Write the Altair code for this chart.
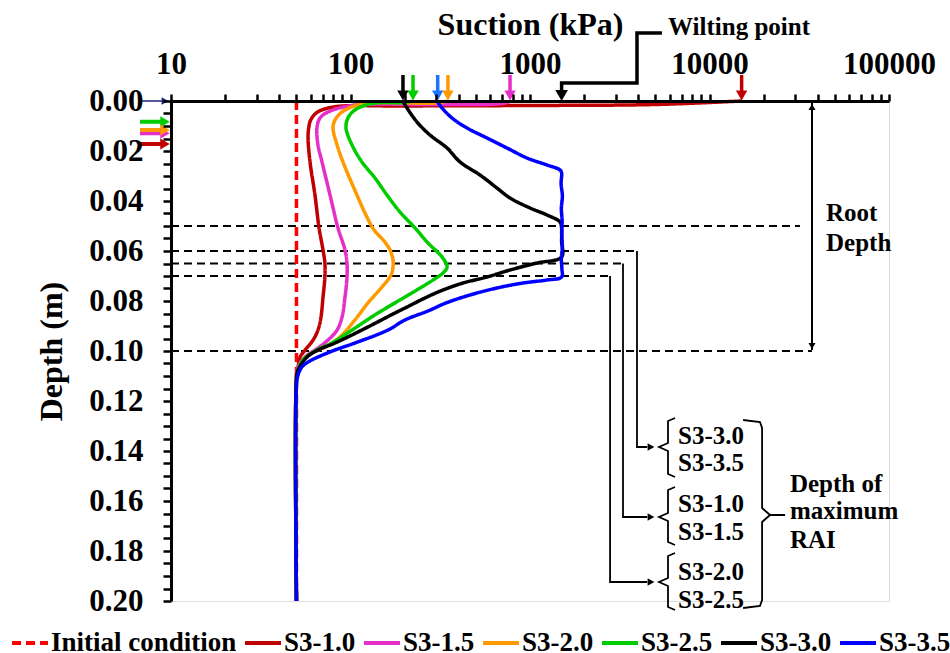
import altair as alt
import pandas as pd

FONT = "Liberation Serif"

# ---------------- series data (suction kPa vs depth m) ----------------
series_names = ["Initial condition", "S3-1.0", "S3-1.5", "S3-2.0", "S3-2.5", "S3-3.0", "S3-3.5"]
series_colors = ["#FF0000", "#C00000", "#E62FC9", "#FF9900", "#00CC00", "#000000", "#0000FF"]
series_dash = [[9, 5], [1, 0], [1, 0], [1, 0], [1, 0], [1, 0], [1, 0]]

init_depth = [0.0, 0.2]
init_suction = [50, 50]

s10_depth = [0.0, 0.0014, 0.0018, 0.0020, 0.0024, 0.0046, 0.0076, 0.0108, 0.0148, 0.0244, 0.0376,
             0.0508, 0.0596, 0.0648, 0.0704, 0.0784, 0.0864, 0.0916, 0.0956, 0.0996, 0.1024, 0.1064,
             0.110, 0.20]
s10_suction = [15000, 5000, 1000, 200, 80, 65, 60, 58.5, 58, 59.5, 63.4,
               66.8, 70.3, 72, 72, 70.3, 68.5, 65.9, 61.9, 55.9, 52.4, 51,
               50, 50]

s15_depth = [0.0, 0.0010, 0.0014, 0.0018, 0.0044, 0.0068, 0.0108, 0.0176, 0.0244, 0.0376, 0.0508,
             0.0596, 0.0648, 0.0704, 0.0784, 0.0864, 0.0916, 0.0956, 0.0988, 0.1024, 0.1064, 0.110, 0.20]
s15_suction = [783, 700, 300, 102, 75, 67.6, 65, 65.9, 69.4, 76.9, 85.2,
               93.2, 95.6, 95.6, 93.2, 89.7, 84.2, 75, 65.9, 55.9, 51, 50, 50]

s20_depth = [0.0, 0.0008, 0.0012, 0.0044, 0.0076, 0.0108, 0.0176, 0.0244, 0.0376, 0.0456, 0.0516,
             0.0560, 0.0596, 0.0636, 0.0664, 0.0696, 0.0744, 0.0808, 0.0876, 0.0944, 0.0984, 0.1008,
             0.1036, 0.1076, 0.111, 0.20]
s20_suction = [345, 300, 116, 89.7, 82, 79.9, 84.2, 90.8, 108.6, 121.9, 135.3,
               153.8, 166, 172.5, 172.5, 168.2, 149.8, 125, 105.8, 87.4, 72.1, 61.1,
               54.4, 51, 50, 50]

s25_depth = [0.0, 0.0006, 0.0010, 0.0036, 0.0068, 0.0108, 0.0176, 0.0244, 0.0308, 0.0376, 0.0444,
             0.0508, 0.0568, 0.0624, 0.0664, 0.0688, 0.0716, 0.0784, 0.0848, 0.0916, 0.0968, 0.0996,
             0.1036, 0.1076, 0.111, 0.20]
s25_suction = [223, 200, 131.7, 105.8, 96.8, 94.4, 102, 115.8, 136.9, 159.6, 188.7,
               228.8, 270.2, 323.6, 345.1, 327.6, 288.2, 201.4, 142.2, 102, 78.8, 65,
               54.4, 51, 50, 50]

s30_depth = [0.0, 0.0028, 0.0084, 0.0136, 0.0188, 0.0244, 0.0296, 0.0348, 0.0388, 0.0428, 0.0456,
             0.0484, 0.0508, 0.0560, 0.0624, 0.0648, 0.0676, 0.0704, 0.0728, 0.0756, 0.0784, 0.0824,
             0.0848, 0.0916, 0.0968, 0.0996, 0.1024, 0.1076, 0.111, 0.20]
s30_suction = [196, 206.5, 234.7, 277.1, 345, 407.7, 526.5, 654.3, 773.8, 1000, 1244,
               1469, 1500, 1500, 1500, 1094, 774, 576, 423.6, 327.6, 266.7, 206.5,
               177, 115.8, 82, 65.9, 57.3, 51, 50, 50]

s35_depth = [0.0, 0.0028, 0.0068, 0.0108, 0.0148, 0.0188, 0.0228, 0.0256, 0.0276, 0.0288, 0.033,
             0.038, 0.043, 0.048, 0.053, 0.058, 0.063, 0.067, 0.0704, 0.0716, 0.0728, 0.0748,
             0.0776, 0.0808, 0.0840, 0.0876, 0.0916, 0.0968, 0.0996, 0.1024, 0.1044, 0.1064,
             0.1096, 0.1136, 0.20]
s35_suction = [303, 323.6, 367.6, 445.6, 576, 744, 961.6, 1244, 1470, 1500, 1490,
               1515, 1495, 1510, 1500, 1515, 1495, 1505, 1500, 1244, 914, 654,
               463, 340, 270, 201, 161.8, 105.8, 82, 65.9, 58, 53.6,
               51, 50, 50]

# ---------------- annotation data ----------------
hline_depth = [0.05, 0.06, 0.065, 0.07, 0.10]
hline_end = [31900, 3945, 3297, 2793, 37240]

conn_group = [1, 1, 1, 2, 2, 2, 3, 3, 3]
conn_suction = [3945, 3945, 4500, 3297, 3297, 4500, 2793, 2793, 4500]
conn_depth = [0.06, 0.1384, 0.1384, 0.065, 0.1664, 0.1664, 0.07, 0.1924, 0.1924]
conn_head_suction = [4720, 4720, 4720]
conn_head_depth = [0.1384, 0.1664, 0.1924]

brace_group = [1] * 7 + [2] * 7 + [3] * 7 + [4] * 6 + [5] * 5
brace_suction = [6427, 5873, 5873, 5234, 5873, 5873, 6427] * 3 + \
                [15390, 19100, 19630, 19630, 21740, 26360] + \
                [15390, 19100, 19630, 19630, 21740]
brace_depth = [0.1268, 0.128, 0.1368, 0.1384, 0.14, 0.1492, 0.1504,
               0.1544, 0.1556, 0.1648, 0.1664, 0.168, 0.1764, 0.1776,
               0.1808, 0.182, 0.1908, 0.1924, 0.194, 0.2024, 0.2036,
               0.1276, 0.1284, 0.1308, 0.1628, 0.1656, 0.1656,
               0.2028, 0.202, 0.1996, 0.1684, 0.1656]

wilt_suction = [5433, 3945, 3945, 1500, 1500]
wilt_depth = [-0.0272, -0.0272, -0.0072, -0.0072, -0.0036]
wilt_head = [1500, -0.0022]

root_suction = 37240
root_top, root_bottom = 0.0008, 0.0996
root_head_depth = [0.0024, 0.098]
root_head_shape = ["triangle-up", "triangle-down"]

top_arrow_suction = [196, 223, 306, 349, 774, 15100]
top_arrow_colors = ["#000000", "#00CC00", "#1A75FF", "#FF9900", "#E62FC9", "#C00000"]
top_arrow_from, top_arrow_to, top_arrow_head = -0.0104, -0.0036, -0.0022

left_arrow_depth = [0.0, 0.0083, 0.0129, 0.0116, 0.0172]
left_arrow_colors = ["#1F1F7A", "#00CC00", "#E62FC9", "#FF9900", "#C00000"]
left_arrow_width = [1.5, 4, 4, 4, 4]
left_arrow_from, left_arrow_to, left_arrow_head = 6.72, 8.9, 9.26

text_labels = ["Root", "Depth", "S3-3.0", "S3-3.5", "S3-1.0", "S3-1.5", "S3-2.0", "S3-2.5",
               "Depth of", "maximum", "RAI", "Wilting point"]
text_suction = [44570, 44570, 6680, 6680, 6680, 6680, 6680, 6680, 28050, 28050, 28050, 5873]
text_depth = [0.0448, 0.0568, 0.134, 0.1448, 0.1612, 0.1724, 0.1884, 0.1996,
              0.1532, 0.164, 0.1756, -0.0296]

x_ticks = [m * 10 ** e for e in range(1, 5) for m in range(1, 10)] + [100000]
y_ticks = [round(i * 0.005, 3) for i in range(41)]

# ---------------- build tables ----------------
all_depth = [init_depth, s10_depth, s15_depth, s20_depth, s25_depth, s30_depth, s35_depth]
all_suction = [init_suction, s10_suction, s15_suction, s20_suction, s25_suction, s30_suction, s35_suction]
rows = []
for name, d, s in zip(series_names, all_depth, all_suction):
    for i, (dd, ss) in enumerate(zip(d, s)):
        rows.append({"series": name, "depth": dd, "suction": ss, "idx": i})
curves = pd.DataFrame(rows)

xs = alt.Scale(type="log", domain=[10, 100000], nice=False)
ys = alt.Scale(domain=[0, 0.2], reverse=True, nice=False, zero=False)

x_axis = alt.Axis(orient="top", values=x_ticks,
                  labelExpr="indexof([10,100,1000,10000,100000], datum.value) >= 0 ? format(datum.value, 'd') : ''",
                  title="Suction (kPa)", titleFont=FONT, titleFontSize=32, titleFontWeight="bold",
                  titleColor="black", titlePadding=7,
                  labelFont=FONT, labelFontSize=31, labelFontWeight="bold", labelColor="black",
                  labelPadding=14, labelFlush=False, labelOverlap=False,
                  tickSize=7, tickWidth=2.5, tickColor="black",
                  domainWidth=3, domainColor="black", grid=False, zindex=1)
y_axis = alt.Axis(orient="left", values=y_ticks,
                  labelExpr="round(datum.value*1000) % 20 == 0 ? format(datum.value, '.2f') : ''",
                  title="Depth (m)", titleFont=FONT, titleFontSize=32, titleFontWeight="bold",
                  titleColor="black", titlePadding=20,
                  labelFont=FONT, labelFontSize=31, labelFontWeight="bold", labelColor="black",
                  labelPadding=20, labelFlush=False, labelOverlap=False,
                  tickSize=8, tickWidth=2.5, tickColor="black",
                  domainWidth=3, domainColor="black", grid=False, zindex=1)


def X(field):
    return alt.X(field, type="quantitative", scale=xs, axis=x_axis)


def Y(field):
    return alt.Y(field, type="quantitative", scale=ys, axis=y_axis)


legend = alt.Legend(orient="none", legendX=-161, legendY=522, direction="horizontal", columns=7,
                    title=None, labelFont=FONT, labelFontSize=27, labelFontWeight="bold",
                    labelColor="black", symbolType="stroke", symbolSize=1296, symbolStrokeWidth=4,
                    labelOffset=1, columnPadding=0, labelLimit=400)

curve_layer = alt.Chart(curves).mark_line(strokeWidth=3.5, interpolate="catmull-rom").encode(
    x=X("suction"), y=Y("depth"),
    color=alt.Color("series:N", scale=alt.Scale(domain=series_names, range=series_colors), legend=legend),
    strokeDash=alt.StrokeDash("series:N", scale=alt.Scale(domain=series_names, range=series_dash), legend=legend),
    order="idx:Q",
)

hlines = alt.Chart(pd.DataFrame({"depth": hline_depth, "x0": [10] * len(hline_depth), "x1": hline_end})).mark_rule(
    color="black", strokeWidth=1.8, strokeDash=[8, 5]).encode(
    x=X("x0"), x2="x1:Q", y=Y("depth"))

conn = alt.Chart(pd.DataFrame({"g": conn_group, "suction": conn_suction, "depth": conn_depth,
                               "o": list(range(len(conn_group)))})).mark_line(
    color="black", strokeWidth=1.8).encode(
    x=X("suction"), y=Y("depth"), detail="g:N", order="o:Q")

conn_heads = alt.Chart(pd.DataFrame({"suction": conn_head_suction, "depth": conn_head_depth})).mark_point(
    shape="triangle-right", filled=True, color="black", size=60, opacity=1).encode(
    x=X("suction"), y=Y("depth"))

braces = alt.Chart(pd.DataFrame({"g": brace_group, "suction": brace_suction, "depth": brace_depth,
                                 "o": list(range(len(brace_group)))})).mark_line(
    color="black", strokeWidth=1.8).encode(
    x=X("suction"), y=Y("depth"), detail="g:N", order="o:Q")

wilt = alt.Chart(pd.DataFrame({"suction": wilt_suction, "depth": wilt_depth,
                               "o": list(range(len(wilt_depth)))})).mark_line(
    color="black", strokeWidth=3.5).encode(
    x=X("suction"), y=Y("depth"), order="o:Q")

wilt_h = alt.Chart(pd.DataFrame({"suction": [wilt_head[0]], "depth": [wilt_head[1]]})).mark_point(
    shape="triangle-down", filled=True, color="black", size=160, opacity=1).encode(
    x=X("suction"), y=Y("depth"))

root = alt.Chart(pd.DataFrame({"suction": [root_suction], "d0": [root_top], "d1": [root_bottom]})).mark_rule(
    color="black", strokeWidth=2).encode(
    x=X("suction"), y=Y("d0"), y2="d1:Q")

root_h = alt.Chart(pd.DataFrame({"suction": [root_suction] * 2, "depth": root_head_depth,
                                 "shape": root_head_shape})).mark_point(
    filled=True, color="black", size=50, opacity=1).encode(
    x=X("suction"), y=Y("depth"), shape=alt.Shape("shape:N", scale=None))

top_df = pd.DataFrame({"suction": top_arrow_suction, "col": top_arrow_colors,
                       "d0": [top_arrow_from] * 6, "d1": [top_arrow_to] * 6, "dh": [top_arrow_head] * 6})
top_sh = alt.Chart(top_df).mark_rule(strokeWidth=3.5).encode(
    x=X("suction"), y=Y("d0"), y2="d1:Q", color=alt.Color("col:N", scale=None))
top_hd = alt.Chart(top_df).mark_point(shape="triangle-down", filled=True, size=130, opacity=1).encode(
    x=X("suction"), y=Y("dh"), color=alt.Color("col:N", scale=None))

n_left = len(left_arrow_depth)
left_df = pd.DataFrame({"depth": left_arrow_depth, "col": left_arrow_colors, "w": left_arrow_width,
                        "x0": [left_arrow_from] * n_left, "x1": [left_arrow_to] * n_left,
                        "xh": [left_arrow_head] * n_left,
                        "hs": [60 if w < 2 else 120 for w in left_arrow_width]})
left_sh = alt.Chart(left_df).mark_rule().encode(
    x=X("x0"), x2="x1:Q", y=Y("depth"),
    color=alt.Color("col:N", scale=None), strokeWidth=alt.StrokeWidth("w:Q", scale=None))
left_hd = alt.Chart(left_df).mark_point(shape="triangle-right", filled=True, opacity=1).encode(
    x=X("xh"), y=Y("depth"),
    color=alt.Color("col:N", scale=None), size=alt.Size("hs:Q", scale=None))

texts = alt.Chart(pd.DataFrame({"t": text_labels, "suction": text_suction, "depth": text_depth})).mark_text(
    font=FONT, fontSize=25, fontWeight="bold", align="left", baseline="middle", color="black").encode(
    x=X("suction"), y=Y("depth"), text="t:N")

chart = alt.layer(
    hlines, conn, braces, conn_heads, root, root_h, wilt, wilt_h, curve_layer,
    top_sh, top_hd, left_sh, left_hd, texts
).properties(
    width=718, height=500,
    padding={"left": 171, "top": 101, "right": 61, "bottom": 52},
    autosize=alt.AutoSizeParams(type="none"),
).configure_view(strokeWidth=0).configure(background="white")

chart.save("out.html", embed_options={"renderer": "svg", "actions": False})
